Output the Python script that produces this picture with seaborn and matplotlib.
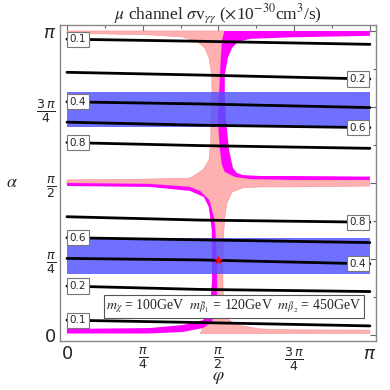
import numpy as np
import pandas as pd
import matplotlib
matplotlib.use('Agg')
import matplotlib.pyplot as plt
import seaborn as sns

# all coordinates in units of pi (phi/pi, alpha/pi)
line_phi = [0.0, 0.44, 1.0]
line_levels = ['0.1', '0.2', '0.4', '0.6', '0.8', '0.8', '0.6', '0.4', '0.2', '0.1']
line_side = ['L', 'R', 'L', 'R', 'L', 'R', 'L', 'R', 'L', 'L']
line_alpha = [
    [0.973, 0.966, 0.956],
    [0.864, 0.855, 0.842],
    [0.767, 0.760, 0.748],
    [0.700, 0.690, 0.682],
    [0.633, 0.623, 0.614],
    [0.389, 0.378, 0.371],
    [0.320, 0.313, 0.304],
    [0.252, 0.247, 0.234],
    [0.161, 0.150, 0.143],
    [0.049, 0.041, 0.030],
]

# blue bands
band_lo = [0.684, 0.201]
band_hi = [0.799, 0.319]

# pink region outline
pink_phi = [0.000, 0.520, 0.512, 0.508, 0.502, 0.498, 0.505, 0.512, 0.521, 0.554, 0.604, 0.736, 1.000,
            1.000, 0.736, 0.637, 0.581, 0.545, 0.528, 0.521, 0.518, 0.515, 0.515, 0.521, 0.535, 0.561,
            0.637, 0.736, 1.000, 1.000, 0.440, 0.449, 0.479, 0.488, 0.495, 0.495, 0.495, 0.490, 0.485,
            0.470, 0.439, 0.406, 0.274, 0.000, 0.000, 0.274, 0.406, 0.449, 0.469, 0.475, 0.475, 0.479,
            0.478, 0.469, 0.455, 0.432, 0.383, 0.274, 0.000]
pink_alpha = [1.000, 1.000, 0.970, 0.911, 0.789, 0.707, 0.609, 0.559, 0.536, 0.520, 0.513, 0.510, 0.510,
              0.490, 0.487, 0.487, 0.484, 0.470, 0.434, 0.388, 0.345, 0.247, 0.148, 0.076, 0.049, 0.033,
              0.020, 0.017, 0.016, 0.005, 0.005, 0.023, 0.043, 0.082, 0.125, 0.181, 0.247, 0.345, 0.388,
              0.444, 0.474, 0.487, 0.497, 0.500, 0.510, 0.513, 0.516, 0.543, 0.576, 0.641, 0.707, 0.789,
              0.855, 0.911, 0.944, 0.964, 0.980, 0.987, 0.993]

# magenta band, upper right
mag_up_phi = [1.000, 0.520, 0.512, 0.508, 0.502, 0.498, 0.505, 0.512, 0.521, 0.554, 0.604, 0.736, 1.000,
              1.000, 0.736, 0.637, 0.581, 0.561, 0.548, 0.535, 0.525, 0.521, 0.521, 0.531, 0.545, 0.564,
              0.604, 0.736, 1.000]
mag_up_alpha = [1.000, 1.000, 0.970, 0.911, 0.789, 0.707, 0.609, 0.559, 0.536, 0.520, 0.513, 0.510, 0.510,
                0.521, 0.523, 0.523, 0.526, 0.533, 0.549, 0.609, 0.707, 0.789, 0.855, 0.911, 0.944, 0.964,
                0.974, 0.979, 0.984]

# magenta band, lower left
mag_lo_phi = [0.000, 0.274, 0.383, 0.449, 0.479, 0.488, 0.495, 0.495, 0.495, 0.490, 0.485, 0.470, 0.439,
              0.406, 0.274, 0.000, 0.000, 0.274, 0.406, 0.452, 0.468, 0.474, 0.478, 0.479, 0.475, 0.465,
              0.449, 0.383, 0.274, 0.000]
mag_lo_alpha = [0.005, 0.005, 0.010, 0.023, 0.043, 0.082, 0.125, 0.181, 0.247, 0.345, 0.388, 0.444, 0.474,
                0.487, 0.497, 0.500, 0.490, 0.487, 0.474, 0.454, 0.421, 0.378, 0.345, 0.181, 0.125, 0.072,
                0.049, 0.033, 0.023, 0.020]

star_phi = [0.5]
star_alpha = [0.247]

tick_pos = [0, 0.25, 0.5, 0.75, 1.0]
tick_lab = ['$0$', r'$\frac{\pi}{4}$', r'$\frac{\pi}{2}$', r'$\frac{3\,\pi}{4}$', r'$\pi$']

sns.set_theme(style='white')
plt.rcParams['font.family'] = ['Liberation Serif', 'DejaVu Serif']
plt.rcParams['mathtext.fontset'] = 'stix'

fig = plt.figure(figsize=(3.9, 3.9), dpi=100)
ax = fig.add_axes([0.1538, 0.1256, 0.8102, 0.8104])

ax.fill(pink_phi, pink_alpha, color='#ffb0b0', ec='#f49090', lw=0.4, zorder=1)
ax.fill(mag_up_phi, mag_up_alpha, color='#ff00ff', lw=0, zorder=2)
ax.fill(mag_lo_phi, mag_lo_alpha, color='#ff00ff', lw=0, zorder=2)
for lo, hi in zip(band_lo, band_hi):
    ax.fill_between([0, 1], [lo, lo], [hi, hi], color='#5050ff', alpha=0.82, lw=0, zorder=3)

rows = []
for i, al in enumerate(line_alpha):
    for p, a in zip(line_phi, al):
        rows.append({'line': i, 'phi': p, 'alpha': a})
lines = pd.DataFrame(rows)
sns.lineplot(data=lines, x='phi', y='alpha', units='line', estimator=None, color='black',
             lw=2, sort=False, ax=ax, zorder=4)

for lvl, side, al in zip(line_levels, line_side, line_alpha):
    if side == 'L':
        x, y = 0.036, al[0]
    else:
        x, y = 0.960, al[-1]
    ax.text(x, y, lvl, family='DejaVu Sans', fontsize=7.5, ha='center', va='center', zorder=6,
            bbox=dict(boxstyle='square,pad=0.25', fc='white', ec='#777777', lw=0.8))

sns.scatterplot(x=star_phi, y=star_alpha, marker='*', color='red', s=50, linewidth=0, ax=ax, zorder=7)

ax.text(0.551, 0.094,
        r'$m_{\chi}$ = 100GeV  $m_{\tilde{\beta}_1}$ = 120GeV  $m_{\tilde{\beta}_2}$ = 450GeV',
        fontsize=10, ha='center', va='center', zorder=6,
        bbox=dict(boxstyle='square,pad=0.2', fc='white', ec='#555555', lw=0.8))

ax.set_xlim(-0.023, 1.02)
ax.set_ylim(-0.0197, 1.0197)
ax.set_xticks(tick_pos)
ax.set_xticklabels(tick_lab, fontsize=13, family='DejaVu Sans')
ax.set_yticks(tick_pos)
ax.set_yticklabels(tick_lab, fontsize=13, family='DejaVu Sans')
ax.set_xticks([0.125, 0.375, 0.625, 0.875], minor=True)
ax.set_yticks([0.125, 0.375, 0.625, 0.875], minor=True)
ax.tick_params(which='both', direction='in', top=True, right=True, color='#666666', width=0.8)
ax.tick_params(which='major', length=4, pad=3)
ax.tick_params(which='minor', length=2)
plt.setp(ax.get_xticklabels() + ax.get_yticklabels(), math_fontfamily='dejavusans')
for s in ax.spines.values():
    s.set_color('#888888')
    s.set_linewidth(1)

ax.set_xlabel(r'$\varphi$', fontsize=13)
ax.xaxis.set_label_coords(0.5, -0.117)
ax.xaxis.label.set_va('center')
ax.set_ylabel(r'$\alpha$', fontsize=13, rotation=0)
ax.yaxis.set_label_coords(-0.152, 0.5)
ax.yaxis.label.set_va('center')
ax.set_title(r'$\mu$ channel $\sigma$v$_{\gamma\gamma}$ ($\times$10$^{-30}$cm$^3$/s)', fontsize=12.5, pad=4)

fig.savefig('out.png', dpi=100)
